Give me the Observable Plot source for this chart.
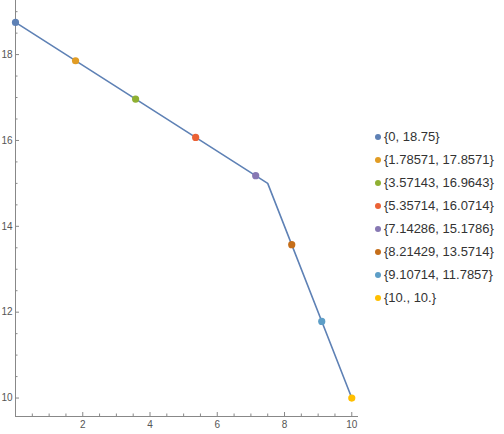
<!DOCTYPE html>
<html>
<head>
<meta charset="utf-8">
<script src="https://cdn.jsdelivr.net/npm/d3@7"></script>
<script src="https://cdn.jsdelivr.net/npm/@observablehq/plot@0.6"></script>
<style>
  html, body { margin: 0; padding: 0; background: #fff; }
  #wrap { position: relative; width: 504px; height: 434px; }
  #legend { position: absolute; left: 375px; top: 125px; font-family: "Liberation Sans", Arial, sans-serif; font-size: 13px; color: #333; }
  .row { height: 23px; display: flex; align-items: center; white-space: nowrap; }
  .dot { width: 6px; height: 6px; border-radius: 50%; margin-right: 3px; flex: none; }
</style>
</head>
<body>
<div id="wrap"><div id="legend"></div></div>
<script>
// data
const pointX = [0, 1.78571, 3.57143, 5.35714, 7.14286, 8.21429, 9.10714, 10];
const pointY = [18.75, 17.8571, 16.9643, 16.0714, 15.1786, 13.5714, 11.7857, 10];
const pointLabels = ["{0, 18.75}", "{1.78571, 17.8571}", "{3.57143, 16.9643}", "{5.35714, 16.0714}", "{7.14286, 15.1786}", "{8.21429, 13.5714}", "{9.10714, 11.7857}", "{10., 10.}"];
const pointColors = ["#5E81B5", "#E19C24", "#8FB032", "#EB6235", "#8778B3", "#C56E1A", "#5D9EC7", "#FFBF00"];
const lineX = [0, 7.5, 10];
const lineY = [18.75, 15, 10];
const xMajor = [2, 4, 6, 8, 10];
const xMinor = [0.5, 1, 1.5, 2.5, 3, 3.5, 4.5, 5, 5.5, 6.5, 7, 7.5, 8.5, 9, 9.5];
const yMajor = [10, 12, 14, 16, 18];
const yMinor = [10.5, 11, 11.5, 12.5, 13, 13.5, 14.5, 15, 15.5, 16.5, 17, 17.5, 18.5, 19];
const xDomain = [0, 10.2];
const yDomain = [9.57, 19.26];

const points = pointX.map((x, i) => ({x, y: pointY[i], label: pointLabels[i], color: pointColors[i]}));
const line = lineX.map((x, i) => ({x, y: lineY[i]}));

const axisColor = "#888";
const labelColor = "#555";
const noLabel = () => "";

const chart = Plot.plot({
  width: 504,
  height: 434,
  marginLeft: 15,
  marginRight: 146,
  marginTop: 0,
  marginBottom: 18,
  style: {fontFamily: "'Liberation Sans', Arial, sans-serif", fontSize: "10px", background: "transparent"},
  x: {domain: xDomain, axis: null},
  y: {domain: yDomain, axis: null},
  marks: [
    Plot.ruleY([yDomain[0]], {stroke: axisColor, strokeWidth: 1}),
    Plot.ruleX([xDomain[0]], {stroke: axisColor, strokeWidth: 1}),
    Plot.axisX(xMajor, {anchor: "bottom", tickSize: -4, tickPadding: 8, stroke: axisColor, fill: labelColor, tickFormat: d => String(d), label: null}),
    Plot.axisX(xMinor, {anchor: "bottom", tickSize: -2.5, tickFormat: noLabel, stroke: axisColor, label: null}),
    Plot.axisY(yMajor, {anchor: "left", tickSize: -4, tickPadding: 7, stroke: axisColor, fill: labelColor, tickFormat: d => String(d), label: null}),
    Plot.axisY(yMinor, {anchor: "left", tickSize: -2.5, tickFormat: noLabel, stroke: axisColor, label: null}),
    Plot.line(line, {x: "x", y: "y", stroke: "#5E81B5", strokeWidth: 1.6}),
    Plot.dot(points, {x: "x", y: "y", r: 3.6, fill: "color", stroke: "none"})
  ]
});
document.getElementById("wrap").prepend(chart);

const legend = document.getElementById("legend");
points.forEach(p => {
  const row = document.createElement("div");
  row.className = "row";
  const dot = document.createElement("span");
  dot.className = "dot";
  dot.style.background = p.color;
  const t = document.createElement("span");
  t.textContent = p.label;
  row.append(dot, t);
  legend.append(row);
});
</script>
</body>
</html>
